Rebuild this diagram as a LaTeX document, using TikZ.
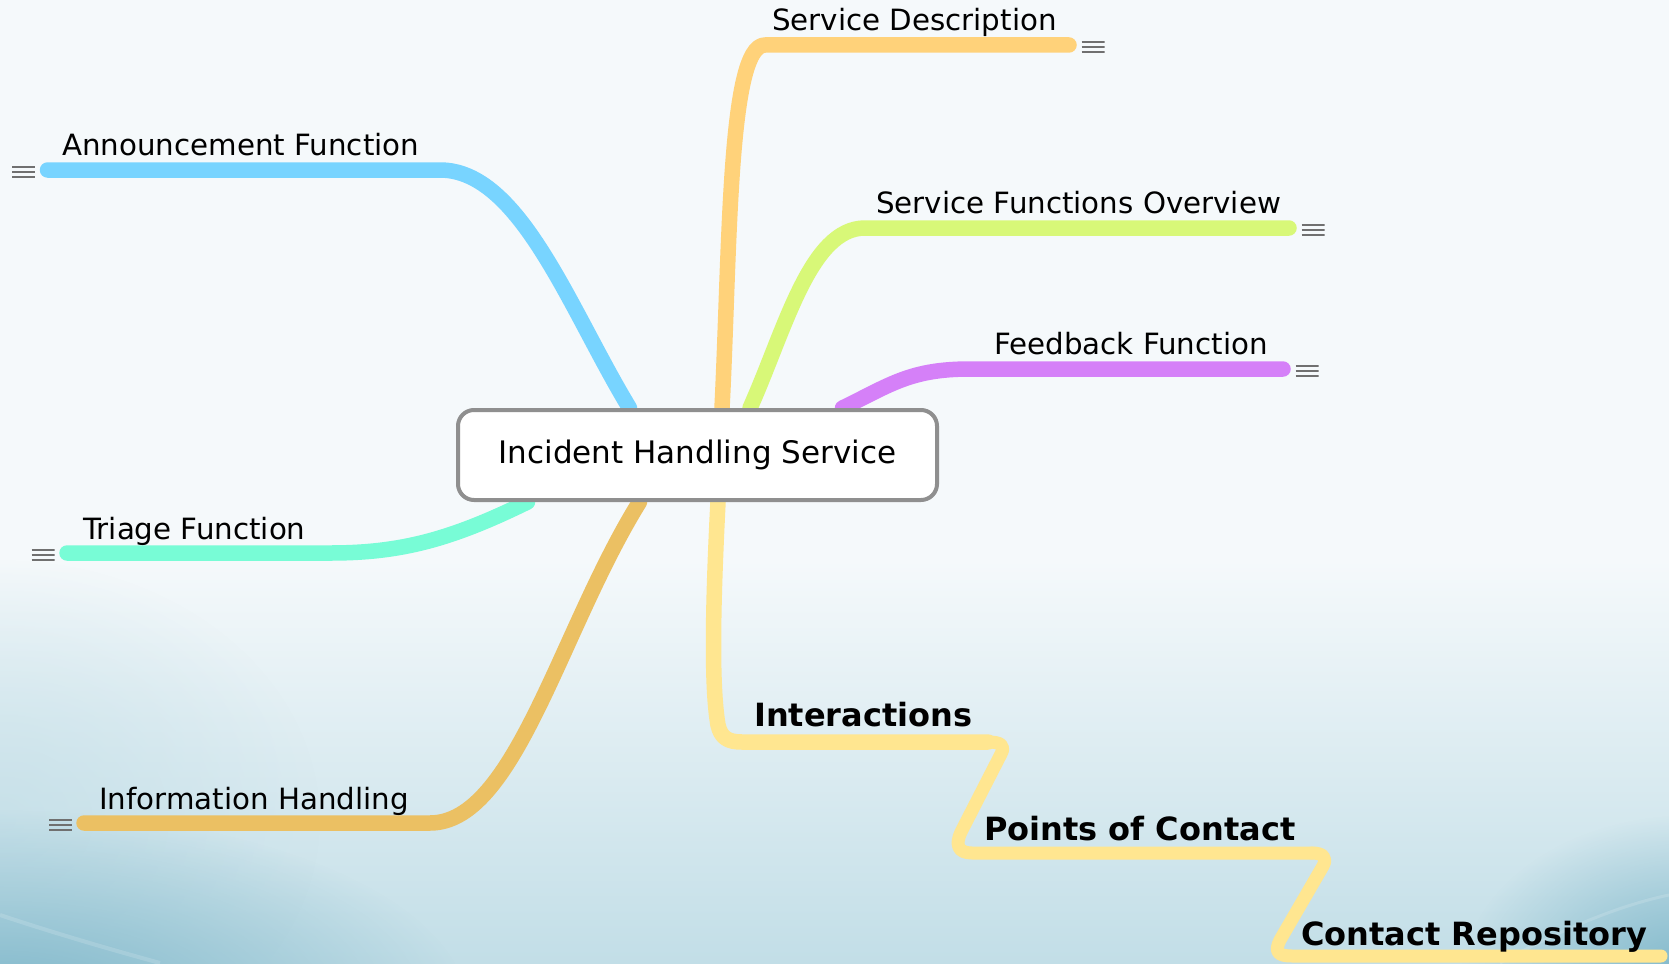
\documentclass[tikz,border=0pt]{standalone}
\usepackage{fontspec}
\setmainfont{DejaVu Sans}
\usetikzlibrary{fadings}

% branch colours
\definecolor{cSD}{HTML}{FFD27A}
\definecolor{cSFO}{HTML}{D8F878}
\definecolor{cFF}{HTML}{D580F8}
\definecolor{cAF}{HTML}{78D4FF}
\definecolor{cTF}{HTML}{78FCD6}
\definecolor{cIH}{HTML}{EBC063}
\definecolor{cIN}{HTML}{FFE690}
% frame and background colours
\definecolor{rootgray}{HTML}{8F8F8F}
\definecolor{notegray}{HTML}{707070}
\definecolor{bgtop}{HTML}{F5F9FB}
\definecolor{bgmid}{HTML}{C2DEE7}
\definecolor{bgdeep}{HTML}{7DB6C9}

\tikzfading[name=softspot, inner color=transparent!0, outer color=transparent!100]

\pgfdeclarelayer{bg}
\pgfdeclarelayer{lines}
\pgfsetlayers{bg,lines,main}

\begin{document}
\begin{tikzpicture}[x=1pt,y=-1pt,
  branch/.style={line width=15.5pt, line cap=round, line join=round},
  subbranch/.style={line width=13pt, line cap=round, line join=round},
  rootbox/.style={draw=rootgray, line width=4pt, fill=white, rounded corners=16pt,
    minimum width=479pt, minimum height=90pt, inner sep=0pt,
    font=\fontsize{31}{36}\selectfont},
  topic/.style={font=\fontsize{29.3}{34}\selectfont, inner sep=0pt, anchor=base west},
  subtopic/.style={font=\bfseries\fontsize{32}{37}\selectfont, inner sep=0pt, anchor=base west},
  notes/.style={minimum width=23pt, minimum height=14pt, inner sep=0pt,
    path picture={
      \foreach \k in {-5,0,5}
        \draw[notegray, line width=2.4pt]
          ([yshift=\k pt]path picture bounding box.west) --
          ([yshift=\k pt]path picture bounding box.east);
    }},
]
\useasboundingbox (0,0) rectangle (1669,963);

% soft background
\begin{pgfonlayer}{bg}
  \fill[bgtop] (0,0) rectangle (1669,963);
  \shade[top color=bgtop, bottom color=bgmid] (0,560) rectangle (1669,963);
  \fill[bgmid, path fading=softspot, opacity=0.7] (0,820) ellipse (320 and 260);
  \fill[bgdeep, path fading=softspot] (0,1010) ellipse (470 and 200);
  \fill[bgdeep, path fading=softspot] (1690,985) ellipse (230 and 170);
  \draw[white, opacity=0.15, line width=4pt] (0,915) .. controls (60,935) and (120,952) .. (160,963);
  \draw[white, opacity=0.15, line width=3pt] (1500,963) .. controls (1560,930) and (1620,905) .. (1669,895);
\end{pgfonlayer}

% central topic
\node[rootbox] (root) at (697.5,455) {Incident Handling Service};

% branch labels
\node[topic] (sd)  at (772,31)  {Service Description};
\node[topic] (sfo) at (876,213) {Service Functions Overview};
\node[topic] (ff)  at (994,354) {Feedback Function};
\node[topic] (af)  at (62,155)  {Announcement Function};
\node[topic] (tf)  at (83,539)  {Triage Function};
\node[topic] (ih)  at (99,809)  {Information Handling};
\node[subtopic] (in) at (754,726) {Interactions};
\node[subtopic] (pc) at (984,840) {Points of Contact};
\node[subtopic] (cr) at (1301,945) {Contact Repository};

% underline ends
\coordinate (sdEnd)  at (1069,45);
\coordinate (sfoEnd) at (1289,228);
\coordinate (ffEnd)  at (1283,369);
\coordinate (afEnd)  at (47.5,170);
\coordinate (tfEnd)  at (67,553);
\coordinate (ihEnd)  at (84,823);
\coordinate (inEnd)  at (988,742);
\coordinate (pcEnd)  at (1312,853);
\coordinate (crEnd)  at (1661,956);

% note markers
\node[notes] (sdN)  at (1093,47)  {};
\node[notes] (sfoN) at (1313,230) {};
\node[notes] (ffN)  at (1307,371) {};
\node[notes] (afN)  at (23.5,172) {};
\node[notes] (tfN)  at (43,555)   {};
\node[notes] (ihN)  at (60.5,825) {};

% connectors
\begin{pgfonlayer}{lines}
  \draw[branch, cSD]  ([xshift=24.5pt]root.north) .. controls (730,250) and (728,45) .. (765,45) -- (sdEnd);
  \draw[branch, cSFO] ([xshift=52.5pt]root.north) .. controls (785,330) and (810,228) .. (865,228) -- (sfoEnd);
  \draw[branch, cFF]  ([xshift=145pt]root.north) .. controls (890,385) and (910,369) .. (970,369) -- (ffEnd);
  \draw[branch, cAF]  ([xshift=-68pt]root.north) .. controls (570,310) and (520,170) .. (440,170) -- (afEnd);
  \draw[branch, cTF]  ([xshift=-170pt]root.south) .. controls (450,540) and (400,553) .. (330,553) -- (tfEnd);
  \draw[branch, cIH]  ([xshift=-58pt]root.south) .. controls (560,630) and (515,823) .. (430,823) -- (ihEnd);
  \draw[branch, cIN]  ([xshift=20.5pt]root.south) .. controls (712,620) and (712,690) .. (718,725)
        .. controls (721,738) and (728,742) .. (742,742) -- (inEnd);
  \draw[subbranch, cIN] (inEnd) .. controls (1000,742) and (1006,745) .. (1001,754) -- (961,832)
        .. controls (955,845) and (958,853) .. (972,853) -- (pcEnd);
  \draw[subbranch, cIN] (pcEnd) .. controls (1322,853) and (1328,857) .. (1323,866) -- (1280,940)
        .. controls (1274,952) and (1278,956) .. (1292,956) -- (crEnd);
\end{pgfonlayer}
\end{tikzpicture}
\end{document}
